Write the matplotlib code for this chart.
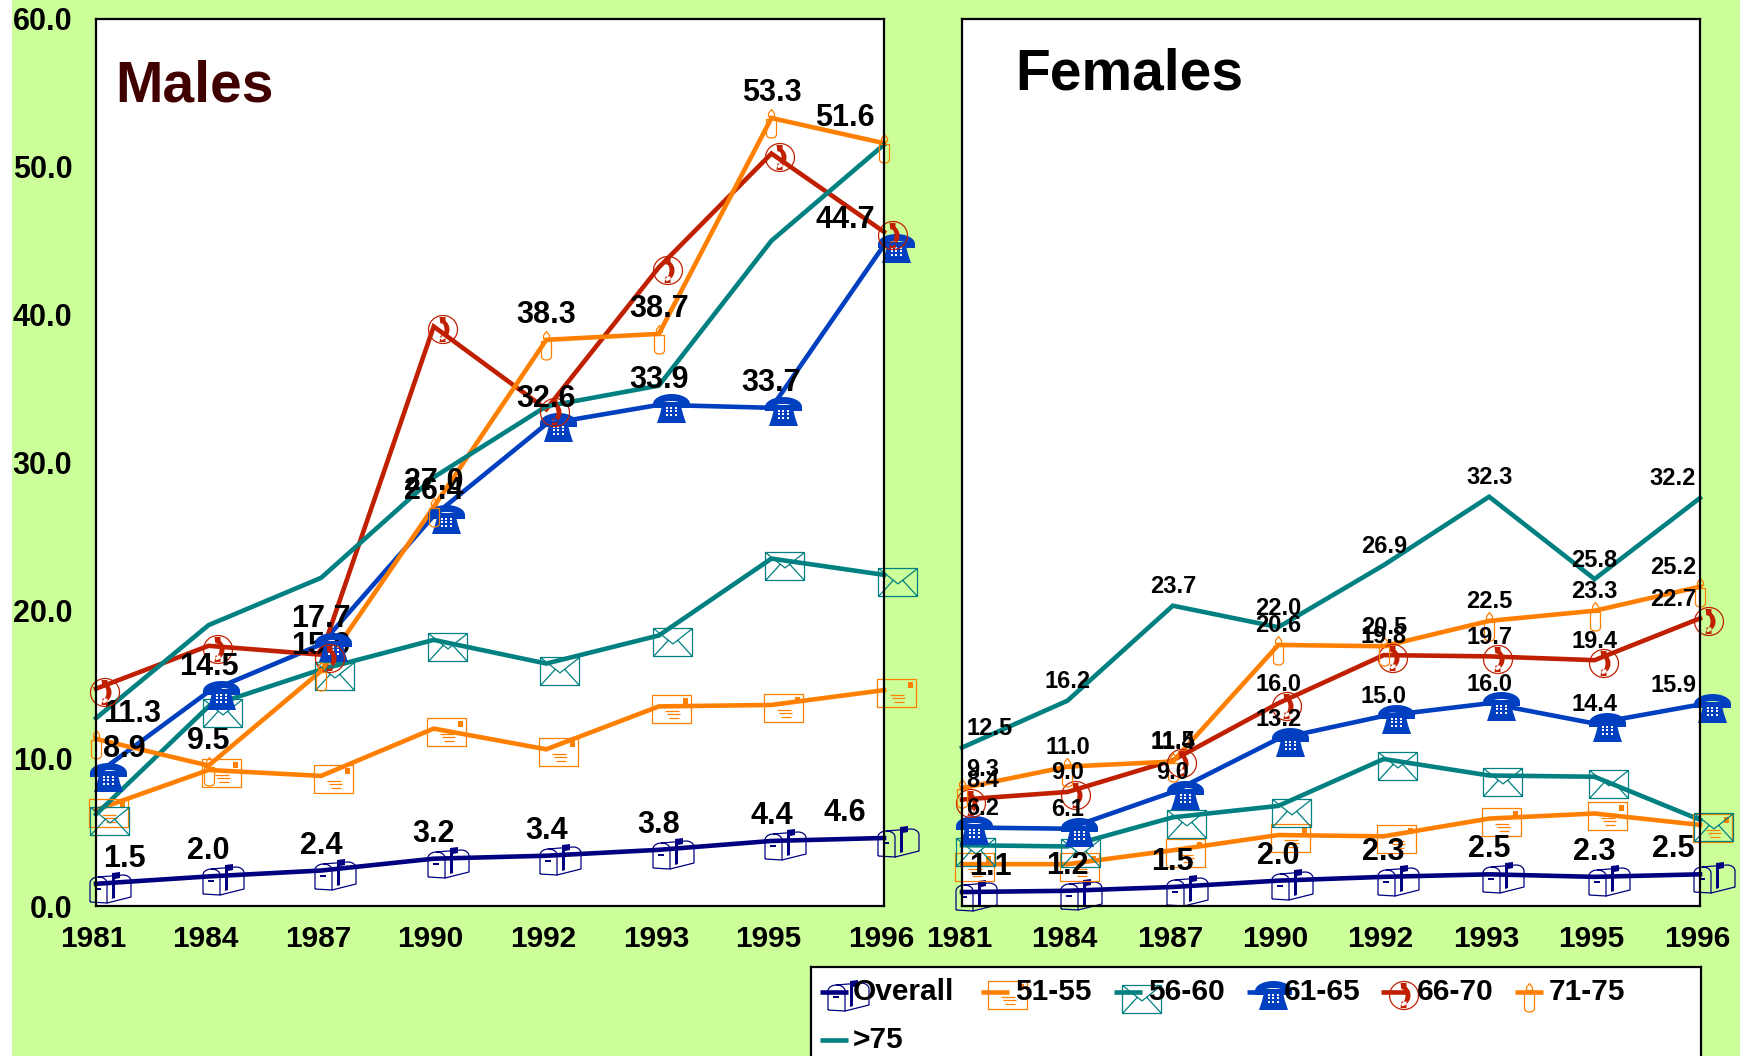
import numpy as np
import matplotlib
matplotlib.use("Agg")
import matplotlib.pyplot as plt
from matplotlib.path import Path
from matplotlib.patches import Rectangle
from matplotlib.transforms import Affine2D, ScaledTranslation

plt.rcParams['font.family'] = ['Liberation Sans', 'DejaVu Sans']
plt.rcParams['font.weight'] = 'bold'

DPI = 100
W, H = 1747, 1056

years = ['1981', '1984', '1987', '1990', '1992', '1993', '1995', '1996']
yticks = [0, 10, 20, 30, 40, 50, 60]
groups = ['Overall', '51-55', '56-60', '61-65', '66-70', '71-75', '>75']

# males
m_overall = [1.5, 2.0, 2.4, 3.2, 3.4, 3.8, 4.4, 4.6]
m_51_55 = [6.5, 9.2, 8.8, 12.0, 10.6, 13.5, 13.6, 14.6]
m_56_60 = [6.2, 13.5, 16.0, 18.0, 16.4, 18.3, 23.5, 22.4]
m_61_65 = [8.9, 14.5, 17.7, 26.4, 32.6, 33.9, 33.7, 44.7]
m_66_70 = [14.7, 17.6, 17.0, 39.2, 33.6, 43.2, 50.9, 45.6]
m_71_75 = [11.3, 9.5, 15.9, 27.0, 38.3, 38.7, 53.3, 51.6]
m_over75 = [12.7, 19.0, 22.2, 29.0, 33.8, 35.2, 45.0, 51.5]

# females
f_overall = [1.1, 1.2, 1.5, 2.0, 2.3, 2.5, 2.3, 2.5]
f_51_55 = [3.3, 3.3, 4.4, 5.6, 5.5, 6.9, 7.3, 6.4]
f_56_60 = [4.8, 4.7, 7.0, 7.9, 11.6, 10.3, 10.2, 6.8]
f_61_65 = [6.2, 6.1, 9.0, 13.2, 15.0, 16.0, 14.4, 15.9]
f_66_70 = [8.4, 9.0, 11.5, 16.0, 19.8, 19.7, 19.4, 22.7]
f_71_75 = [9.3, 11.0, 11.4, 20.6, 20.5, 22.5, 23.3, 25.2]
f_over75 = [12.5, 16.2, 23.7, 22.0, 26.9, 32.3, 25.8, 32.2]

male_series = [m_overall, m_51_55, m_56_60, m_61_65, m_66_70, m_71_75, m_over75]
female_series = [f_overall, f_51_55, f_56_60, f_61_65, f_66_70, f_71_75, f_over75]
male_labelled = ['Overall', '61-65', '71-75']
female_labelled = ['Overall', '61-65', '66-70', '71-75', '>75']

colors = ['#000080', '#FF8000', '#008080', '#0040C0', '#C02000', '#FF8000', '#008080']


def poly(points, closed=False):
    pts = [(x, -y) for x, y in points]
    codes = [Path.MOVETO] + [Path.LINETO] * (len(pts) - 1)
    if closed:
        pts.append(pts[0])
        codes.append(Path.CLOSEPOLY)
    return Path(pts, codes)


def arc(cx, cy, rx, ry, a0, a1, n=24):
    t = np.radians(np.linspace(a0, a1, n))
    return list(zip(cx + rx * np.cos(t), cy + ry * np.sin(t)))


def shape(left, top, *paths):
    # icons are written from their top left corner, y going down
    return Path.make_compound_path(*paths).transformed(Affine2D().translate(left, -top))


def envelope(left, top):
    w, h = 39, 28
    return [('line', shape(left, top,
                           poly([(0, 0), (w, 0), (w, h), (0, h)], True),
                           poly([(0, 0), (w * .5, h * .55), (w, 0)]),
                           poly([(0, h), (w * .38, h * .42)]),
                           poly([(w, h), (w * .62, h * .42)])))]


def letter():
    w, h = 39, 28
    return [('line', shape(-7, -11,
                           poly([(0, 0), (w, 0), (w, h), (0, h)], True),
                           poly([(13, 16), (27, 16)]),
                           poly([(15, 19), (28, 19)]),
                           poly([(17, 23), (27, 23)]))),
            ('fill', shape(-7, -11,
                           poly([(w - 8, 3), (w - 3, 3), (w - 3, 9), (w - 8, 9)], True)))]


def phone():
    handset = arc(18.5, 10, 18.5, 10, 180, 360) + [(37, 14), (28, 14), (27, 9)] \
        + arc(18.5, 9, 8.5, 2, 360, 180) + [(9, 14), (0, 14)]
    body = [(10, 8), (27, 8), (30, 20), (33, 29), (4, 29), (7, 20)]
    keys = [poly([(x, y), (x + 2, y), (x + 2, y + 2), (x, y + 2)], True)
            for x in (13, 17.5, 22) for y in (13, 16.6, 20.2)]
    return [('fill', shape(-6.5, -11.5, poly(handset, True), poly(body, True))),
            ('white', shape(-6.5, -11.5, *keys))]


def phone_circle():
    ring = arc(14.5, 14, 14.5, 14, 0, 360, 48)
    outer = arc(9, 14, 12, 11.5, -70, 70)
    inner = arc(9, 14, 7, 9, 70, -70)
    earpieces = [poly([(11, 1.5), (17, 1.5), (17, 8), (12, 8)], True),
                 poly([(11, 26.5), (17, 26.5), (17, 20), (12, 20)], True)]
    return [('line', shape(-6, -11, poly(ring, True))),
            ('fill', shape(-6, -11, poly(outer + inner, True), *earpieces))]


def candle():
    outline = [(-5, 1), (5, 1), (5, 16)] + arc(0, 16, 5, 3.5, 0, 180) + [(-5, 1)]
    flame = [(0, -9), (3, -5), (3, -2), (-3, -2), (-3, -5)]
    return [('line', shape(0, 0, poly(outline), poly(flame, True),
                           poly([(0, -2), (0, 1)])))]


def mailbox():
    front = [(0, 30), (0, 11)] + arc(8.5, 11, 8.5, 6, 180, 360) + [(17, 31), (0, 30)]
    side = [(17, 31), (41, 25), (41, 9)] + arc(33, 9, 8, 6, 360, 270) + [(8, 5)]
    flag = [(22, 1), (30, 0), (30, 6), (25, 7), (25, 26), (22, 27)]
    handle = [(5, 16), (11, 16), (11, 18), (5, 18)]
    return [('line', shape(-6.5, -12.5, poly(front), poly(side))),
            ('fill', shape(-6.5, -12.5, poly(flag, True), poly(handle, True)))]


icons = [mailbox(), letter(), envelope(-6, -7), phone(), phone_circle(), candle(), None]


def draw_icon(ax, xs, ys, icon, color):
    for kind, path in icon:
        size = 2 * np.abs(path.vertices).max() * 72 / DPI
        if kind == 'line':
            style = dict(markerfacecolor='none', markeredgecolor=color, markeredgewidth=0.9)
        elif kind == 'fill':
            style = dict(markerfacecolor=color, markeredgewidth=0)
        else:
            style = dict(markerfacecolor='white', markeredgewidth=0)
        ax.plot(xs, ys, linestyle='none', marker=path, markersize=size,
                clip_on=False, zorder=4, **style)


def panel(rect, series, labelled, ymax, label_size, first_dx, last_dx, label_dy):
    left, top, right, bottom = rect
    ax = fig.add_axes([left / W, 1 - bottom / H, (right - left) / W, (bottom - top) / H])
    x = np.arange(len(years))
    for vals, color, icon in zip(series, colors, icons):
        ax.plot(x, vals, color=color, lw=3.3, solid_joinstyle='miter', clip_on=False, zorder=3)
        if icon is not None:
            draw_icon(ax, x, vals, icon, color)
    for name, vals in zip(groups, series):
        if name not in labelled:
            continue
        size = 22 if name == 'Overall' else label_size
        dy = 25 if name == 'Overall' else label_dy
        for i, v in enumerate(vals):
            dx = first_dx.get(name, 28) if i == 0 else (last_dx if i == len(vals) - 1 else 0)
            # the 71-75 labels sit behind the icons
            ax.annotate(f'{v:.1f}', (i, v), xytext=(dx * 72 / DPI, dy * 72 / DPI),
                        textcoords='offset points', ha='center', va='center',
                        fontsize=size, color='black', annotation_clip=False,
                        zorder=3.5 if name == '71-75' else 6)
    ax.set_xlim(0, len(years) - 1)
    ax.set_ylim(0, ymax)
    ax.set_xticks(x, years)
    ax.tick_params(axis='x', length=0, pad=14, labelsize=21.5)
    nudge = ScaledTranslation(-3 / DPI, 0, fig.dpi_scale_trans)
    for lab in ax.get_xticklabels():
        lab.set_transform(lab.get_transform() + nudge)
    ax.set_facecolor('white')
    for s in ax.spines.values():
        s.set_linewidth(1.6)
        s.set_zorder(5)
    return ax


fig = plt.figure(figsize=(W / DPI, H / DPI), dpi=DPI, facecolor='white')

# page background
bg = fig.add_axes([0, 0, 1, 1], zorder=-1)
bg.set_xlim(0, W)
bg.set_ylim(H, 0)
bg.axis('off')
bg.add_patch(Rectangle((12, 0), 1728, H, facecolor='#CCFF99', edgecolor='none'))

males = panel((96, 19, 884, 906), male_series, male_labelled, 60, 22,
              {'71-75': 36}, -39, 25)
males.set_yticks(yticks, [f'{t:.1f}' for t in yticks])
males.tick_params(axis='y', length=0, pad=17, labelsize=22)
fig.text(115 / W, 1 - 87 / H, 'Males', fontsize=41, color='#400000', va='center', ha='left')

females = panel((962, 19, 1700, 906), female_series, female_labelled, 70, 17,
                {'71-75': 21, '66-70': 21, '61-65': 21}, -27, 19)
females.set_yticks([])
fig.text(1015 / W, 1 - 74 / H, 'Females', fontsize=41, color='black', va='center', ha='left')

# legend box runs off the bottom edge of the page
leg = fig.add_axes([811 / W, 1 - 1066 / H, 890 / W, 99 / H], zorder=5)
leg.set_xlim(811, 1701)
leg.set_ylim(1066, 967)
leg.set_xticks([])
leg.set_yticks([])
for s in leg.spines.values():
    s.set_linewidth(1.6)
line_starts = [820, 981, 1114, 1247, 1381, 1515, 820]
text_starts = [853, 1015, 1148, 1284, 1417, 1549, 853]
rows = [992, 992, 992, 992, 992, 992, 1040]
for name, color, icon, x0, tx, row in zip(groups, colors, icons, line_starts, text_starts, rows):
    leg.plot([x0, x0 + 28], [row, row], color=color, lw=3.3, zorder=3, solid_capstyle='butt')
    if icon is not None:
        draw_icon(leg, [x0 + 14], [row], icon, color)
    leg.text(tx, row, name, fontsize=21.5, va='center', ha='left', color='black', zorder=6)

fig.savefig('out.png', dpi=DPI, facecolor='white')
